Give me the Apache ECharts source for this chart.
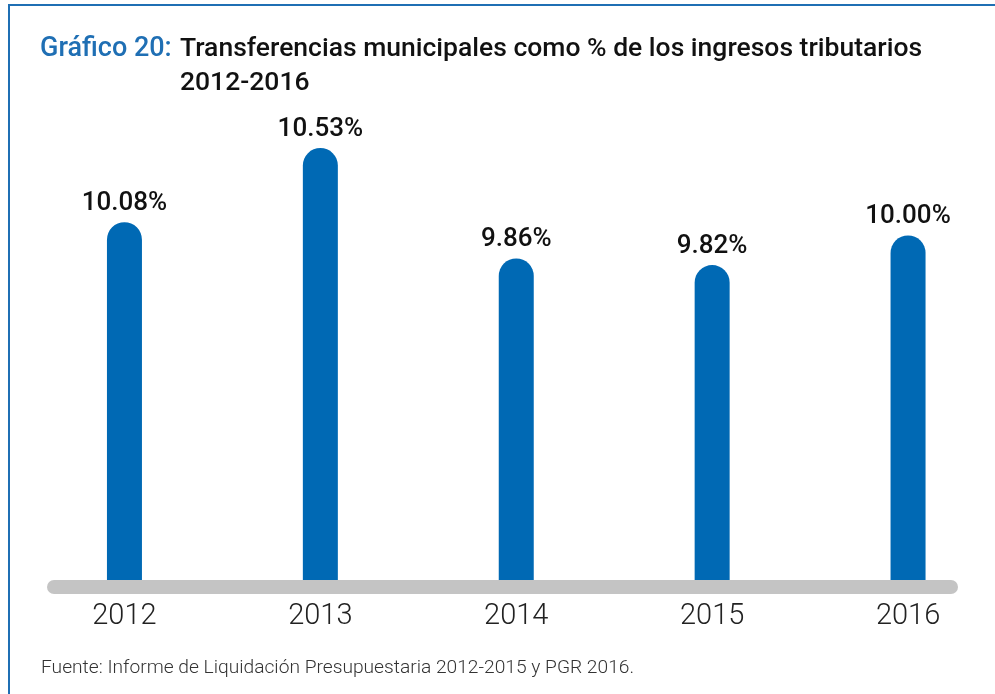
<!DOCTYPE html>
<html>
<head>
<meta charset="utf-8">
<script src="https://cdn.jsdelivr.net/npm/echarts@6/dist/echarts.min.js"></script>
<style>
  html, body { margin: 0; padding: 0; background: #fff; overflow: hidden; }
  /* un poco más ancho que la ventana para que la última categoría quede a la derecha */
  #main { width: 1006px; height: 694px; }
  /* marco azul arriba e izquierda */
  #frame {
    position: absolute; left: 8px; top: 4px; width: 1000px; height: 700px;
    border-top: 2px solid #1f6fb4; border-left: 2px solid #1f6fb4;
    pointer-events: none;
  }
</style>
</head>
<body>
<div id="main"></div>
<div id="frame"></div>
<script>
// datos del gráfico
const years = ["2012", "2013", "2014", "2015", "2016"];
const shares = [10.08, 10.53, 9.86, 9.82, 10.00];

const myChart = echarts.init(document.getElementById("main"));

const option = {
  animation: false,
  title: [
    {
      text: "Gráfico 20:",
      left: 40, top: 32, padding: 0,
      textStyle: { fontFamily: "Roboto", fontSize: 27, fontWeight: 500, color: "#1f6fb4", lineHeight: 34 }
    },
    {
      text: "Transferencias municipales como % de los ingresos tributarios\n2012-2016",
      left: 180, top: 32, padding: 0,
      textStyle: { fontFamily: "Roboto", fontSize: 26.5, fontWeight: 500, color: "#111", lineHeight: 34 }
    },
    {
      text: "Fuente: Informe de Liquidación Presupuestaria 2012-2015 y PGR 2016.",
      left: 41, top: 659, padding: 0,
      textStyle: { fontFamily: "Roboto", fontSize: 19.2, fontWeight: 300, color: "#333" }
    }
  ],
  grid: [
    // barras
    { left: 26.5, right: 0, top: 148, bottom: 114 },
    // barra gris del eje
    { left: 54, right: 55, top: 500, bottom: 107 }
  ],
  xAxis: [
    {
      type: "category",
      data: years,
      gridIndex: 0,
      axisLine: { show: false },
      axisTick: { show: false },
      axisLabel: {
        margin: 22,
        fontFamily: "Roboto", fontSize: 29, fontWeight: 300, color: "#222"
      }
    },
    {
      type: "value",
      gridIndex: 1,
      min: 0, max: 1,
      axisLine: { show: true, lineStyle: { color: "#c4c4c4", width: 14, cap: "round" } },
      axisTick: { show: false },
      axisLabel: { show: false },
      splitLine: { show: false }
    }
  ],
  yAxis: [
    { type: "value", gridIndex: 0, min: 7.91, max: 10.53, show: false },
    { type: "value", gridIndex: 1, show: false }
  ],
  series: [
    {
      type: "bar",
      data: shares,
      barWidth: 35,
      itemStyle: { color: "#0069b4", borderRadius: [17.5, 17.5, 0, 0] },
      label: {
        show: true,
        position: "top",
        distance: 6,
        formatter: (p) => p.value.toFixed(2) + "%",
        fontFamily: "Roboto", fontSize: 26, fontWeight: 500, color: "#111"
      }
    }
  ]
};

option && myChart.setOption(option);
</script>
</body>
</html>
